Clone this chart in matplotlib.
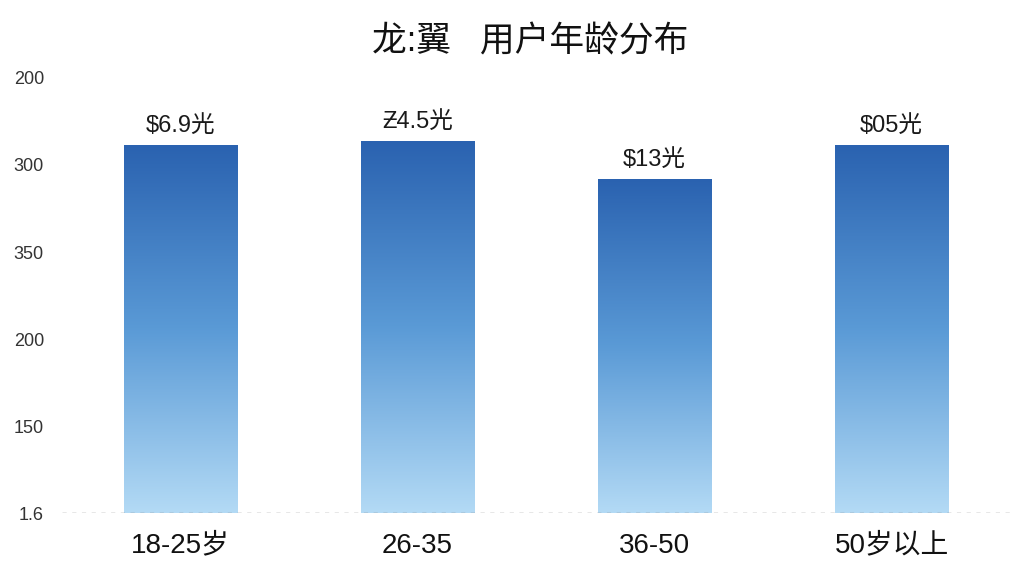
import numpy as np
import matplotlib
matplotlib.use("Agg")
import matplotlib.pyplot as plt
from matplotlib.colors import LinearSegmentedColormap

plt.rcParams["font.family"] = ["Liberation Sans", "Noto Sans CJK SC", "DejaVu Sans"]

# data (y scale: ticks every 50)
categories = ["18-25岁", "26-35", "36-50", "50岁以上"]
values = [211.5, 214.0, 192.0, 211.5]
value_labels = ["$6.9光", "Ƶ4.5光", "$13光", "$05光"]
ytick_pos = [0, 50, 100, 150, 200, 250]
ytick_labels = ["1.6", "150", "200", "350", "300", "200"]
title = "龙:翼   用户年龄分布"

fig = plt.figure(figsize=(10.24, 5.76), dpi=100)
ax = fig.add_axes([0.0605, 0.109, 0.926, 0.786])

x = np.arange(len(categories))
bars = ax.bar(x, values, width=0.477, color="none", edgecolor="none")

cmap = LinearSegmentedColormap.from_list("bluegrad", ["#b3daf5", "#5a9ad6", "#2a62b0"])
grad = np.linspace(0, 1, 256).reshape(-1, 1)
for b in bars:
    x0, w, h = b.get_x(), b.get_width(), b.get_height()
    im = ax.imshow(grad, cmap=cmap, origin="lower", aspect="auto",
                   extent=[x0, x0 + w, 0, h], zorder=2)
    im.set_clip_path(b)

for xi, v, lab in zip(x, values, value_labels):
    ax.text(xi, v + 4.5, lab, ha="center", va="bottom", fontsize=17, color="#1a1a1a")

ax.axhline(0, color="#888888", lw=1, ls=(0, (3, 4)), zorder=3)

ax.set_xlim(-0.5, len(categories) - 0.5)
ax.set_ylim(0, 260)
ax.set_xticks(x)
ax.set_xticklabels(categories, fontsize=20, color="#111111")
ax.set_yticks(ytick_pos)
ax.set_yticklabels(ytick_labels, fontsize=13, color="#333333")
ax.tick_params(axis="both", length=0)
ax.tick_params(axis="y", pad=13)
ax.tick_params(axis="x", pad=14)
for s in ax.spines.values():
    s.set_visible(False)

fig.text(0.518, 0.928, title, ha="center", va="center", fontsize=25, color="#111111")

fig.savefig("out.png", dpi=100, facecolor="white")
